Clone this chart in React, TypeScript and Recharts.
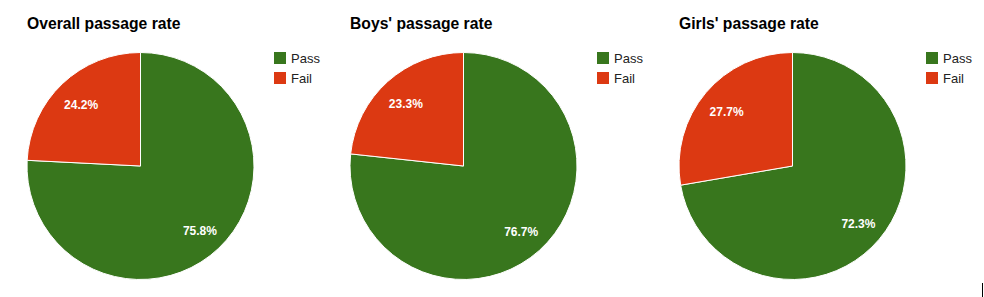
import React from 'react';
import { PieChart, Pie, Cell, Legend } from 'recharts';

const categories = ['Pass', 'Fail'];
const colors = ['#38761d', '#dc3912'];
const titles = ['Overall passage rate', "Boys' passage rate", "Girls' passage rate"];
const overallValues = [75.8, 24.2];
const boysValues = [76.7, 23.3];
const girlsValues = [72.3, 27.7];
const seriesList = [overallValues, boysValues, girlsValues];

const chartLefts = [0, 323, 652];
const W = 330;
const H = 297;
const CX = 140.5;
const CY = 166;
const R = 113.5;
const RAD = Math.PI / 180;

const renderLabel = (props: any) => {
  const { cx, cy, midAngle, outerRadius, value } = props;
  const r = outerRadius * 0.76;
  const x = cx + r * Math.cos(-midAngle * RAD);
  const y = cy + r * Math.sin(-midAngle * RAD) + 2;
  return (
    <text
      x={x}
      y={y}
      fill="#ffffff"
      textAnchor="middle"
      dominantBaseline="central"
      style={{ fontFamily: 'Liberation Sans, Arial, sans-serif', fontSize: 12, fontWeight: 'bold' }}
    >
      {value.toFixed(1)}%
    </text>
  );
};

const renderLegend = () => (
  <div style={{ fontFamily: 'Liberation Sans, Arial, sans-serif', fontSize: 13, color: '#222' }}>
    {categories.map((c, i) => (
      <div key={c} style={{ display: 'flex', alignItems: 'center', height: 20 }}>
        <div style={{ width: 12, height: 12, background: colors[i], marginRight: 5 }} />
        <span>{c}</span>
      </div>
    ))}
  </div>
);

function OnePie({ values, title, left }: { values: number[]; title: string; left: number }) {
  const data = categories.map((name, i) => ({ name, value: values[i] }));
  return (
    <div style={{ position: 'absolute', left, top: 0, width: W, height: H }}>
      <div
        style={{
          position: 'absolute',
          left: CX - R,
          top: 15,
          fontFamily: 'Liberation Sans, Arial, sans-serif',
          fontWeight: 'bold',
          fontSize: 15.7,
          color: '#000',
          whiteSpace: 'nowrap',
        }}
      >
        {title}
      </div>
      <PieChart
        width={W}
        height={H}
        margin={{ top: 0, right: 0, bottom: 0, left: 0 }}
        style={{ position: 'absolute', left: 0, top: 0 }}
      >
        <Pie
          data={data}
          dataKey="value"
          nameKey="name"
          cx={CX}
          cy={CY}
          outerRadius={R}
          startAngle={90}
          endAngle={-270}
          stroke="#ffffff"
          strokeWidth={1}
          label={renderLabel}
          labelLine={false}
          isAnimationActive={false}
        >
          {data.map((d, i) => (
            <Cell key={d.name} fill={colors[i]} />
          ))}
        </Pie>
        <Legend
          content={renderLegend}
          layout="vertical"
          verticalAlign="top"
          align="right"
          wrapperStyle={{ position: 'absolute', left: 274, top: 48, width: 56 }}
        />
      </PieChart>
    </div>
  );
}

export default function App() {
  return (
    <div style={{ position: 'absolute', left: 0, top: 0, width: 984, height: 297, background: '#fff', overflow: 'hidden' }}>
      {seriesList.map((vals, i) => (
        <OnePie key={titles[i]} values={vals} title={titles[i]} left={chartLefts[i]} />
      ))}
      <div style={{ position: 'absolute', left: 982, top: 283, width: 1, height: 14, background: '#000' }} />
    </div>
  );
}
